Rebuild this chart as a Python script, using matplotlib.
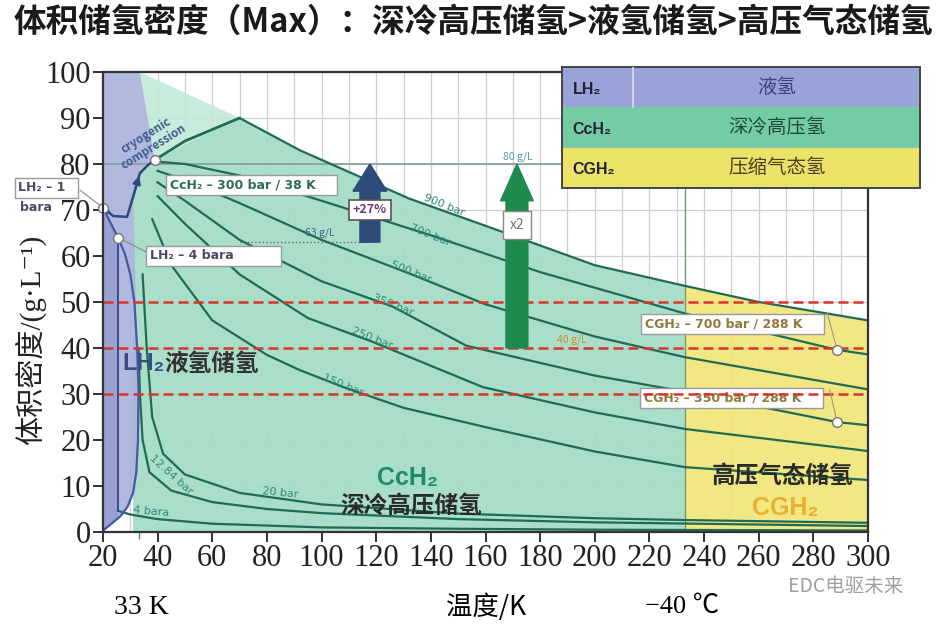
import numpy as np
import matplotlib.pyplot as plt
from matplotlib.patches import FancyArrow, Rectangle

plt.rcParams['font.family'] = ['Noto Sans CJK SC', 'DejaVu Sans']

# isobars: temperature (K) and density (g/L)
t900 = [39, 50, 70, 92, 132, 165, 200, 233, 260, 300]
v900 = [80.9, 85, 90, 83, 72.5, 65.5, 58, 53.5, 50, 46]
t700 = [40, 50, 70, 100, 140, 180, 233, 288.7, 300]
v700 = [80.5, 80, 77.5, 72, 64.5, 56.5, 47.5, 39.6, 38.6]
t500 = [40, 50, 70, 100, 133, 160, 200, 233, 300]
v500 = [78.5, 76.5, 71.5, 63.5, 56, 49.5, 42.5, 38, 31]
t350 = [40, 50, 70, 100, 126, 153, 200, 233, 288.7, 300]
v350 = [76, 72, 63.5, 54.5, 49, 40.5, 34, 30.5, 23.9, 23.2]
t250 = [40, 50, 70, 95, 118, 159, 200, 233, 300]
v250 = [73, 67, 56, 46.5, 41.5, 31.5, 26, 22.4, 17.6]
t150 = [38, 45, 60, 80, 92, 108, 130, 160, 200, 233, 300]
v150 = [68, 58, 46, 38.5, 35.2, 31.5, 27, 22.8, 17.5, 14.1, 11.3]
t20 = [34.5, 36, 38, 42, 50, 70, 100, 150, 200, 233, 300]
v20 = [56, 40, 25, 17, 12.5, 8.5, 6.0, 4.0, 3.0, 2.6, 2.0]
t12 = [33, 33.5, 34.5, 37, 45, 60, 80, 100, 150, 200, 300]
v12 = [40, 30, 20, 13, 9, 6.5, 5, 4.1, 2.8, 2.1, 1.3]
t4 = [25.5, 25.5, 30, 40, 60, 100, 150, 200, 300]
v4 = [64, 4.6, 3.8, 2.8, 1.8, 1.0, 0.7, 0.5, 0.33]

# liquid/vapour dome and the cryo-compression path
dome_t = [20, 22.5, 25.5, 28, 30, 31.5, 32.5, 33, 32.8, 32.2, 31, 29, 26.5, 23.5, 20]
dome_v = [70.5, 67.5, 64, 60.5, 56, 50, 40, 31, 20, 13, 8.5, 5.5, 3.5, 2, 0.3]
cryo_t = [20, 23.7, 28.8, 31, 33.5, 36.5, 39]
cryo_v = [70.5, 68.7, 68.5, 72.8, 78, 79.8, 80.9]

bar_labels = ['900 bar', '700 bar', '500 bar', '350 bar', '250 bar', '150 bar']
bar_lab_t = [145, 139.7, 132.7, 126, 118.5, 107.8]
bar_lab_v = [71, 64.6, 56.5, 49.3, 42.2, 32]

red_levels = [50, 40, 30]
xticks = list(range(20, 301, 20))
yticks = list(range(0, 101, 10))

fig = plt.figure(figsize=(9.46, 6.27), dpi=100)
ax = fig.add_axes([103/946, 95/627, 765/946, 460/627])
ax.set_xlim(20, 300)
ax.set_ylim(0, 100)

# grid
ax.vlines(np.arange(30, 300, 10), 0, 100, color='#cfcfcf', lw=0.9, zorder=0)
ax.hlines(np.arange(10, 100, 10), 20, 300, color='#cfcfcf', lw=0.9, zorder=0)

i233 = t900.index(233)
# teal region (CcH2)
teal_x = [31, 31] + cryo_t[3:] + t900[1:i233+1] + [233]
teal_y = [0, 72.8] + cryo_v[3:] + v900[1:i233+1] + [0]
ax.fill(teal_x, teal_y, color='#a3dcc5', alpha=0.92, lw=0, zorder=1)
# pale green cap
ax.fill([33.5, 70, 39], [100, 90, 80.9], color='#c4e9d8', alpha=0.9, lw=0, zorder=1)
# yellow region (CGH2)
ax.fill([233] + t900[i233:] + [300], [0] + v900[i233:] + [0],
        color='#f1e67c', alpha=0.95, lw=0, zorder=1)
# lavender region (LH2)
lav_x = [20, 20, 33.5, 39] + cryo_t[::-1][1:4] + [32.5, 33, 32.8, 32.2, 31, 29, 26.5, 23.5, 20]
lav_y = [0, 100, 100, 80.9] + cryo_v[::-1][1:4] + [40, 31, 20, 13, 8.5, 5.5, 3.5, 2, 0]
ax.fill(lav_x, lav_y, color='#aab2dc', alpha=0.9, lw=0, zorder=1.2)
ax.fill([20, 20, 25.5, 25.5], [0, 70.5, 64, 3], color='#8f98cf', alpha=0.7, lw=0, zorder=1.3)
ax.axvline(233, color='#6a9a70', lw=1, zorder=1.4)

# isobars
iso_col = '#1f6b55'
for t, v in [(t900, v900), (t700, v700), (t500, v500), (t350, v350), (t250, v250),
             (t150, v150), (t20, v20), (t12, v12)]:
    ax.plot(t, v, color=iso_col, lw=1.6, zorder=3)
ax.plot(t4[1:], v4[1:], color=iso_col, lw=1.6, zorder=3)
ax.plot(t4[:2], v4[:2], color='#3b4a92', lw=1.4, zorder=3)
ax.plot(t900[:3], v900[:3], color=iso_col, lw=1.8, zorder=3)
ax.plot(dome_t, dome_v, color='#4a56a6', lw=1.6, zorder=3)
ax.plot(cryo_t, cryo_v, color='#2d4a80', lw=1.8, zorder=3.5)
ax.annotate('', xy=(cryo_t[4], cryo_v[4]), xytext=(cryo_t[3], cryo_v[3]),
            arrowprops=dict(arrowstyle='-|>', color='#2d4a80', lw=1.5, mutation_scale=12), zorder=4)
ax.annotate('', xy=(cryo_t[1], cryo_v[1]), xytext=(cryo_t[0], cryo_v[0]),
            arrowprops=dict(arrowstyle='-|>', color='#2d4a80', lw=1.5, mutation_scale=10), zorder=4)

narrow = ['Liberation Sans Narrow', 'DejaVu Sans']
for lab, x, y in zip(bar_labels, bar_lab_t, bar_lab_v):
    ax.text(x, y, lab, color='#2f8a78', fontsize=8, rotation=-22, ha='center', va='center',
            family=narrow, zorder=4)
ax.text(45, 12.5, '12.84 bar', color='#2f8a78', fontsize=8, rotation=-42, ha='center', va='center',
        family=narrow, zorder=4)
ax.text(84.8, 8.6, '20 bar', color='#2f8a78', fontsize=8, rotation=-6, ha='center', va='center',
        family=narrow, zorder=4)
ax.text(37.6, 4.4, '4 bara', color='#2f8a78', fontsize=8, rotation=-5, ha='center', va='center',
        family=narrow, zorder=4)

# red dashed reference lines
for lv in red_levels:
    ax.axhline(lv, color='#d9342b', lw=1.8, ls=(0, (4, 2)), zorder=5)

# reference lines 80 and 63 g/L
ax.hlines(80, 20, 192, color='#8a9a9a', lw=1.2, zorder=2)
ax.hlines(63, 70, 118, color='#667', lw=1, ls=':', zorder=2)
ax.text(99.4, 65, '63 g/L', color='#4a5f7a', fontsize=7.5, ha='center', va='center', zorder=4)
ax.text(171.9, 81.6, '80 g/L', color='#5a9ab0', fontsize=7.5, ha='center', va='center', zorder=4)
ax.text(191.7, 41.9, '40 g/L', color='#d08a30', fontsize=7.5, ha='center', va='center', zorder=4)

# arrows
ax.add_patch(FancyArrow(117.7, 63, 0, 17, width=7.3, head_width=12.4, head_length=5.9,
                        length_includes_head=True, color='#2e4a78', zorder=6))
ax.add_patch(FancyArrow(171.5, 40, 0, 40, width=8, head_width=12, head_length=8,
                        length_includes_head=True, color='#1e8a50', zorder=6))
ax.text(117.7, 70, '+27%', color='#6a3a7a', fontsize=9, fontweight='bold', ha='center', va='center',
        bbox=dict(boxstyle='square,pad=0.3', fc='white', ec='#555555', lw=1.2), zorder=7)
ax.text(171.5, 66.7, 'x2', color='#777777', fontsize=10, ha='center', va='center',
        bbox=dict(boxstyle='square,pad=0.5', fc='white', ec='#888888', lw=1), zorder=7)

# point labels
box = dict(boxstyle='square,pad=0.3', fc='white', ec='#9a9a9a', lw=1)
ax.plot([11.6, 20], [74.3, 70.5], color='#888', lw=0.8, clip_on=False, zorder=7)
ax.text(-11, 74.8, 'LH₂ – 1  ', fontsize=9, fontweight='bold', color='#4a4a6a', family=narrow,
        va='center', bbox=box, clip_on=False, zorder=8)
ax.text(-10.5, 70.6, 'bara', fontsize=9, fontweight='bold', color='#4a4a6a', family=narrow,
        va='center', clip_on=False, zorder=8)
ax.plot([25.5, 37], [64, 60.5], color='#888', lw=0.8, zorder=7)
ax.text(37.2, 60, 'LH₂ – 4 bara          ', fontsize=9, fontweight='bold', color='#4a4a6a',
        family=narrow, va='center', bbox=box, zorder=8)
ax.text(44.5, 75.4, 'CcH₂ – 300 bar / 38 K    ', fontsize=9, fontweight='bold', color='#2f6a5a',
        family=narrow, va='center', bbox=box, zorder=8)
ax.plot([285, 288.7], [47.8, 39.6], color='#998', lw=0.8, zorder=7)
ax.plot([286, 288.7], [30.9, 23.9], color='#998', lw=0.8, zorder=7)
ax.text(218.4, 45.2, 'CGH₂ – 700 bar / 288 K    ', fontsize=9, fontweight='bold', color='#8f7a3a',
        family=narrow, va='center', bbox=box, zorder=8)
ax.text(218, 29.1, 'CGH₂ – 350 bar / 288 K    ', fontsize=9, fontweight='bold', color='#8f7a3a',
        family=narrow, va='center', bbox=box, zorder=4)
ax.plot([20, 25.5, 288.7, 288.7, 39], [70.5, 64, 39.6, 23.9, 80.9], 'o', ms=7,
        mfc='white', mec='#777777', mew=1, zorder=9, clip_on=False)

ax.text(37.2, 85, 'cryogenic\ncompression', color='#3d5f8f', fontsize=8.5, fontweight='bold',
        rotation=32, ha='center', va='center', linespacing=1.0, zorder=4)

# region labels
ax.text(27, 36.7, 'LH₂', color='#3c4b85', fontsize=17, fontweight='bold', va='center', zorder=8,
        family=['Liberation Sans', 'DejaVu Sans'])
ax.text(42.5, 36.5, '液氢储氢', color='#333333', fontsize=17, fontweight='bold', va='center', zorder=8)
ax.text(131.6, 11.7, 'CcH₂', color='#1e8a6a', fontsize=18, fontweight='bold', ha='center',
        va='center', zorder=8, family=['Liberation Sans', 'DejaVu Sans'])
ax.text(132.7, 5.7, '深冷高压储氢', color='#2a2a2a', fontsize=17, fontweight='bold', ha='center',
        va='center', zorder=8)
ax.text(268.9, 12.2, '高压气态储氢', color='#2a2a2a', fontsize=17, fontweight='bold', ha='center',
        va='center', zorder=8)
ax.text(269.6, 5.2, 'CGH₂', color='#e8b030', fontsize=18, fontweight='bold', ha='center',
        va='center', zorder=8, family=['Liberation Sans', 'DejaVu Sans'])

# axes styling
serif = ['Liberation Serif', 'DejaVu Serif']
ax.set_xticks(xticks)
ax.set_yticks(yticks)
ax.set_xticks([33], minor=True)
ax.set_xticklabels([str(t) for t in xticks])
ax.set_yticklabels([str(t) for t in yticks])
ax.tick_params(axis='both', which='major', direction='out', length=7, width=1.3, pad=2,
               colors='#222222', labelsize=22, labelfontfamily='Liberation Serif')
ax.tick_params(axis='x', which='minor', direction='out', length=5, width=1, colors='#777777')
for s in ax.spines.values():
    s.set_color('#333333')
    s.set_linewidth(1.6)
    s.set_zorder(10)

fig.text(0.5, 1 - 22/627, '体积储氢密度（Max）：深冷高压储氢>液氢储氢>高压气态储氢',
         ha='center', va='center', fontsize=23.5, fontweight='bold', color='#1a1a1a')
fig.text(30/946, 1 - 340/627, '体积密度/(g·L⁻¹)', rotation=90, ha='center', va='center',
         fontsize=21, color='#222222', family=['Liberation Serif', 'Noto Sans CJK SC', 'DejaVu Sans'])
fig.text(141/946, 1 - 607/627, '33 K', ha='center', va='center', fontsize=20, family=serif)
fig.text(486/946, 1 - 607/627, '温度/K', ha='center', va='center', fontsize=19)
fig.text(682/946, 1 - 607/627, '−40 ℃', ha='center', va='center', fontsize=19,
         family=['Liberation Serif', 'Noto Sans CJK SC', 'DejaVu Sans'])
fig.text(846/946, 1 - 587/627, 'EDC电驱未来', ha='center', va='center', fontsize=14, color='#a0a0a0')

# legend table
lax = fig.add_axes([562/946, 1 - 188/627, 358/946, 121/627])
lax.set_xlim(0, 1)
lax.set_ylim(0, 3)
lax.axis('off')
leg_keys = ['LH₂', 'CcH₂', 'CGH₂']
leg_names = ['液氢', '深冷高压氢', '压缩气态氢']
leg_cols = ['#9aa2da', '#74cca5', '#ece268']
leg_txt = ['#3a4478', '#1f4a3a', '#4a4020']
for i, (k, n, c, tc) in enumerate(zip(leg_keys, leg_names, leg_cols, leg_txt)):
    y0 = 2 - i
    lax.add_patch(Rectangle((0, y0), 1, 1, fc=c, ec='none'))
    lax.text(0.03, y0 + 0.45, k, fontsize=11.5, fontweight='bold', color='#222238', va='center',
             family=['Liberation Sans', 'DejaVu Sans'])
    lax.text(0.6, y0 + 0.5, n, fontsize=14, color=tc, ha='center', va='center')
lax.plot([0.198, 0.198], [2, 3], color='#dde', lw=1.2)
lax.add_patch(Rectangle((0, 0), 1, 3, fc='none', ec='#444444', lw=1.4, clip_on=False))

fig.savefig('out.png', dpi=100)
